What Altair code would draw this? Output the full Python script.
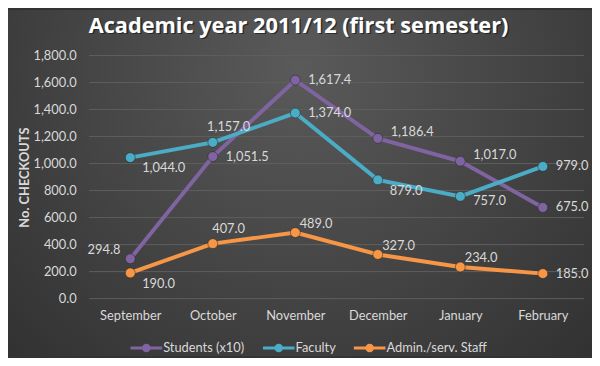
import altair as alt
import pandas as pd

# ---- data ----
title_text = "Academic year 2011/12 (first semester)"
months = ["September", "October", "November", "December", "January", "February"]
series_names = ["Students (x10)", "Faculty", "Admin./serv. Staff"]
students = [294.8, 1051.5, 1617.4, 1186.4, 1017.0, 675.0]
faculty = [1044.0, 1157.0, 1374.0, 879.0, 757.0, 979.0]
admin = [190.0, 407.0, 489.0, 327.0, 234.0, 185.0]
y_ticks = [0, 200, 400, 600, 800, 1000, 1200, 1400, 1600, 1800]

# where each data label sits relative to its point (names only)
label_place = {
    "Students (x10)": ["upleft", "right", "right", "upright", "upright", "right"],
    "Faculty": ["downright", "aboveleft", "right", "downright", "rightlow", "right"],
    "Admin./serv. Staff": ["downright", "aboveleft", "above", "above", "above", "right"],
}

# ---- styles ----
colors = ["#8064A2", "#4BACC6", "#F79646"]
FONT = "Lato"
TXT = "#d9d9d9"
placements = {
    "right": dict(dx=13, dy=0, align="left"),
    "upright": dict(dx=13, dy=-6, align="left"),
    "downright": dict(dx=12, dy=11, align="left"),
    "rightlow": dict(dx=13, dy=5, align="left"),
    "upleft": dict(dx=-10, dy=-9, align="right"),
    "above": dict(dx=21, dy=-9, align="center"),
    "aboveleft": dict(dx=16, dy=-15, align="center"),
}

rows = []
for name, vals in zip(series_names, [students, faculty, admin]):
    for m, v, p in zip(months, vals, label_place[name]):
        rows.append({"month": m, "series": name, "value": v, "place": p})
df = pd.DataFrame(rows)

W, H = 501, 246

x_enc = alt.X("month:N", sort=months, title=None,
              scale=alt.Scale(type="point", padding=0.5),
              axis=alt.Axis(labelAngle=0, labelFont=FONT, labelFontSize=13,
                            labelColor=TXT, labelPadding=11, ticks=False,
                            domain=False, grid=False, zindex=1))
y_enc = alt.Y("value:Q", title="No.  CHECKOUTS",
              scale=alt.Scale(domain=[0, 1800], nice=False),
              axis=alt.Axis(values=y_ticks, format=",.1f", labelFont=FONT,
                            labelFontSize=13, labelColor=TXT, labelPadding=13,
                            ticks=False, domain=False, grid=False, zindex=1,
                            titleFont=FONT, titleFontSize=13, titleFontWeight="bold",
                            titleColor=TXT, titleX=-65, titleBaseline="middle"))
color_scale = alt.Scale(domain=series_names, range=colors)

legend_path = ("M-1,-0.09H1V0.09H-1Z"
               "M0.27,0A0.27,0.27,0,1,1,-0.27,0A0.27,0.27,0,1,1,0.27,0Z")
legend = alt.Legend(title=None, orient="none", direction="horizontal",
                    legendX=42, legendY=280, zindex=1,
                    symbolType=legend_path, symbolSize=1024,
                    symbolStrokeWidth=0, labelOffset=1,
                    columnPadding=18, labelFont=FONT,
                    labelFontSize=13, labelColor=TXT)
color_enc = alt.Color("series:N", scale=color_scale, sort=series_names, legend=legend)

one = pd.DataFrame({"a": [0]})
bg = alt.Chart(one).mark_rect(
    color=alt.RadialGradient(
        gradient="radial", x1=0.5, y1=0.3, x2=0.5, y2=0.3, r1=0, r2=0.8,
        stops=[alt.GradientStop(offset=0, color="#5a5a5a"),
               alt.GradientStop(offset=1, color="#2c2c2c")]),
    strokeWidth=0
).encode(x=alt.value(-82), x2=alt.value(W + 8), y=alt.value(-46), y2=alt.value(H + 58))

title_style = dict(text=title_text, font="Open Sans", fontSize=22, fontWeight="bold",
                   align="center", baseline="alphabetic")
title_shadow = alt.Chart(one).mark_text(color="#111111", opacity=0.6, dx=1.5, dy=1.5,
                                        **title_style).encode(
    x=alt.value(212), y=alt.value(-23))
title = alt.Chart(one).mark_text(color="#ffffff", **title_style).encode(
    x=alt.value(212), y=alt.value(-23))

grid = alt.Chart(pd.DataFrame({"value": y_ticks})).mark_rule(
    color="#5e5e5e", strokeWidth=1).encode(y=y_enc)

base = alt.Chart(df)

lines = base.mark_line(strokeWidth=4).encode(
    x=x_enc, y=y_enc, color=color_enc, detail="series:N",
)

points = base.mark_point(filled=True, size=100, opacity=1, stroke="#222222",
                         strokeWidth=0.5).encode(
    x=x_enc, y=y_enc, color=color_enc,
)

texts = []
for pname, st in placements.items():
    texts.append(
        base.transform_filter(alt.datum.place == pname)
        .mark_text(font=FONT, fontSize=13, color=TXT, baseline="middle", **st)
        .encode(x=x_enc, y=y_enc, text=alt.Text("value:Q", format=",.1f"))
    )

chart = alt.layer(bg, title_shadow, title, grid, lines, points, *texts).properties(
    width=W, height=H,
    autosize=alt.AutoSizeParams(type="none"),
    padding={"left": 82, "top": 46, "right": 8, "bottom": 58},
    background="#333333",
).configure_view(stroke=None)

chart.save("out.html", embed_options={"renderer": "svg", "actions": False})
